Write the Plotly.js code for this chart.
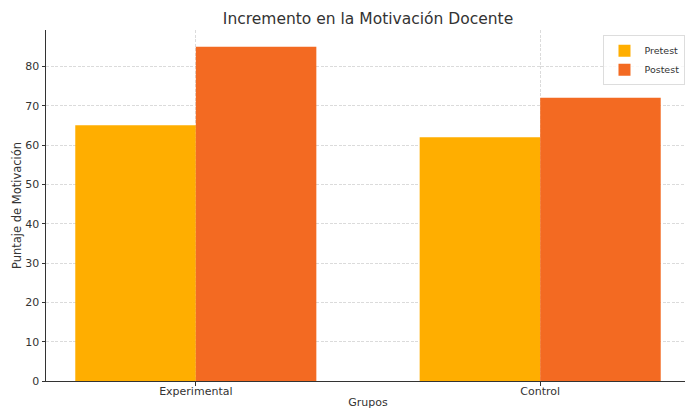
<!DOCTYPE html>
<html><head><meta charset="utf-8">
<script src="https://cdn.plot.ly/plotly-3.0.1.min.js"></script>
<style>html,body{margin:0;padding:0;overflow:hidden;background:#fff}</style>
</head><body>
<div id="chart" style="width:690px;height:409px"></div>
<script>
const categories = ["Experimental", "Control"];
const seriesNames = ["Pretest", "Postest"];
const pretest = [65, 62];
const postest = [85, 72];
const yTicks = [0, 10, 20, 30, 40, 50, 60, 70, 80];

const font = "DejaVu Sans, sans-serif";
const traces = [
  {type: "bar", name: seriesNames[0], x: categories, y: pretest, marker: {color: "#FFAE00"}},
  {type: "bar", name: seriesNames[1], x: categories, y: postest, marker: {color: "#F36A22"}}
];
const gridc = "rgba(190,190,190,0.7)";
const layout = {
  width: 690, height: 409,
  margin: {l: 46, r: 0, t: 30, b: 28},
  paper_bgcolor: "#fff", plot_bgcolor: "#fff",
  barmode: "group", bargap: 0.3, bargroupgap: 0,
  font: {family: font, size: 11, color: "#333"},
  title: {text: "Incremento en la Motivación Docente", font: {family: font, size: 15.5, color: "#333"}, xref: "paper", x: 0.5, xanchor: "center", y: 0.955, yanchor: "middle"},
  showlegend: true,
  legend: {x: 0.993, y: 0.985, xanchor: "right", yanchor: "top", bgcolor: "rgba(255,255,255,0.8)", bordercolor: "#ddd", borderwidth: 1, font: {family: font, size: 9.5, color: "#333"}, tracegroupgap: 0, itemwidth: 30},
  xaxis: {
    type: "category", range: [-0.435, 1.435], layer: "above traces",
    showgrid: true, gridcolor: gridc, griddash: "3px,1.5px", gridwidth: 0.8,
    showline: true, linecolor: "#333", linewidth: 1,
    ticks: "outside", ticklen: 3.5, tickcolor: "#333", ticklabelstandoff: -4,
    tickfont: {family: font, size: 11, color: "#333"},
    title: {text: "Grupos", font: {family: font, size: 11, color: "#333"}, standoff: 8},
    zeroline: false
  },
  yaxis: {
    range: [0, 89.25], tickvals: yTicks, layer: "above traces",
    showgrid: true, gridcolor: gridc, griddash: "3px,1.5px", gridwidth: 0.8,
    showline: true, linecolor: "#333", linewidth: 1,
    ticks: "outside", ticklen: 3.5, tickcolor: "#333",
    tickfont: {family: font, size: 11, color: "#333"},
    title: {text: "Puntaje de Motivación", font: {family: font, size: 11.5, color: "#333"}, standoff: 1},
    zeroline: false
  }
};
Plotly.newPlot("chart", traces, layout, {displayModeBar: false, staticPlot: true});
</script>
</body></html>
